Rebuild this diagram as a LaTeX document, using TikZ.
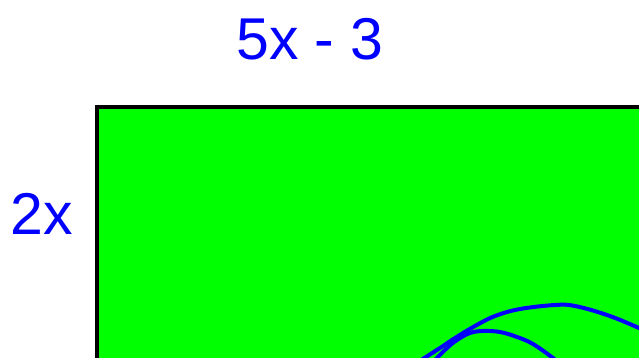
\documentclass[tikz,border=0pt]{standalone}
\usepackage{fontspec}
\setmainfont{Liberation Sans}
\begin{document}
\begin{tikzpicture}[x=1pt,y=-1pt,
  lbl/.style={text=blue,font=\fontsize{59}{62}\selectfont,inner sep=0pt,anchor=base},
  arc/.style={draw=blue,line width=4pt,line cap=round,line join=round}]
\useasboundingbox (0,0) rectangle (639,358);
\clip (0,0) rectangle (639,358);
\fill[white] (0,0) rectangle (639,358);
\filldraw[fill={rgb,255:red,0;green,255;blue,0},draw=black,line width=4pt] (97,107.5) rectangle (700,420);
\draw[arc] plot[smooth,tension=0.6] coordinates {(418,362) (440,348) (455,338) (475,326) (495,316) (520,309) (555,305) (575,306) (607,315) (639,328) (650,334)};
\draw[arc] plot[smooth,tension=0.6] coordinates {(433,362) (447,348) (457,340) (470,333) (483,331) (500,332) (517,337) (533,344) (553,358) (557,362)};
\node[lbl] (top) at (310,60) {5x - 3};
\node[lbl] (side) at (42,234) {2x};
\end{tikzpicture}
\end{document}
